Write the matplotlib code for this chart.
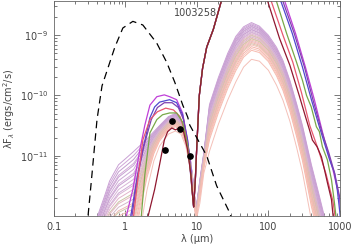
import numpy as np
import matplotlib
matplotlib.use("Agg")
import matplotlib.pyplot as plt
from matplotlib.ticker import FixedLocator, FixedFormatter, LogLocator, NullFormatter

# ---- data (log10 of lambda*F_lambda in erg/cm^2/s, wavelength in micron) ----

# stellar photosphere (dashed)
star_wave = [0.30, 0.34, 0.40, 0.47, 0.71, 0.92, 1.27, 1.75, 2.74, 3.78, 4.90,
             6.34, 7.44, 7.93, 13.7, 18.9, 27.8, 32.0]
star_logf = [-11.99, -11.31, -10.40, -9.84, -9.20, -8.88, -8.77, -8.83, -9.13,
             -9.45, -9.78, -10.16, -10.36, -10.49, -11.00, -11.50, -11.91, -12.1]

# observed photometry
obs_wave = [3.6, 4.5, 5.8, 8.0]
obs_flux = [1.23e-11, 3.7e-11, 2.8e-11, 1.0e-11]

# envelope of the pale model family: brightest (top) and faintest (low) member
fam_wave = [0.38, 0.5, 0.6, 0.8, 1.0, 1.3, 1.6, 2.0, 2.5, 3.0, 4.0, 5.0, 6.0, 7.0,
            8.0, 9.0, 9.7, 11, 12.5, 15, 20, 27, 35, 45, 58, 75, 100, 130, 160,
            200, 250, 300, 400, 500, 620]
fam_top = [-12.1, -11.7, -11.42, -11.15, -11.05, -10.93, -10.83, -10.72, -10.6,
           -10.5, -10.35, -10.3, -10.4, -10.65, -11.0, -11.5, -11.9, -11.4,
           -10.95, -10.15, -9.7, -9.3, -9.02, -8.86, -8.79, -8.85, -9.0, -9.2,
           -9.42, -9.75, -10.15, -10.5, -11.15, -11.6, -12.05]
fam_low = [-13.0, -13.0, -13.0, -13.0, -13.0, -13.0, -12.3, -11.6, -11.1, -10.85,
           -10.65, -10.6, -10.65, -10.85, -11.2, -11.7, -12.1, -11.8, -11.3,
           -10.95, -10.5, -10.1, -9.8, -9.55, -9.42, -9.45, -9.6, -9.85, -10.1,
           -10.45, -10.9, -11.3, -12.1, -12.6, -13.0]

# far-IR peak level of each pale model
fam_peak = [-8.79, -8.81, -8.83, -8.85, -8.86, -8.88, -8.90, -8.91, -8.93, -8.95,
            -8.96, -8.98, -9.00, -9.01, -9.03, -9.05, -9.06, -9.08, -9.10, -9.12,
            -9.14, -9.16, -9.19, -9.22, -9.25, -9.40]
fam_colors = ['#c9a0d4', '#cfa6d8', '#c39ccf', '#d2aad8', '#c8a2d2', '#cda8d6',
              '#d6b0da', '#c6a0d0', '#d8b4d8', '#ceaad4', '#dab6d6', '#e2b4cc',
              '#c9c6a6', '#e6b8c6', '#d4b8c8', '#f0b8b4', '#ccc8a8', '#f2bcb2',
              '#e8bcc0', '#f4b6ae', '#d8c4b0', '#f6c0b6', '#f4b4aa', '#f8c4ba',
              '#f6bcb0', '#f4c0b8']

# highlighted models: near-IR part, common mid-IR rise, far-IR fall
rise_wave = [9.0, 9.5, 10.0, 10.8, 12.0, 13.7, 17.0, 22.0, 30.0, 45.0]
rise_logf = [-11.85, -11.4, -10.8, -10.0, -9.55, -9.2, -8.9, -8.43, -8.0, -7.7]

magenta_near_w = [0.98, 1.27, 1.59, 1.87, 2.2, 2.75, 3.5, 4.15, 5.2, 6.3, 7.4, 8.2, 8.8]
magenta_near_f = [-12.1, -11.56, -10.90, -10.49, -10.16, -10.02, -9.99, -10.02,
                  -10.07, -10.29, -10.74, -11.2, -11.73]
magenta_far_w = [170, 240, 330, 440, 610, 800, 1000, 1060]
magenta_far_f = [-8.44, -8.97, -9.53, -10.07, -10.74, -11.23, -11.73, -12.2]

blue_near_w = [1.15, 1.44, 1.75, 2.2, 2.56, 3.0, 4.15, 5.2, 6.3, 7.4, 8.2, 8.8]
blue_near_f = [-12.1, -11.40, -10.9, -10.37, -10.19, -10.11, -10.07, -10.12,
               -10.32, -10.74, -11.2, -11.73]
blue_far_w = [150, 216, 300, 400, 517, 650, 720, 840, 920, 1000, 1050]
blue_far_f = [-8.44, -8.97, -9.53, -10.07, -10.52, -10.90, -11.07, -11.28,
              -11.56, -11.94, -12.2]

purple_near_w = [1.2, 1.5, 1.8, 2.3, 2.8, 3.5, 4.5, 5.5, 6.5, 7.5, 8.8]
purple_near_f = [-12.1, -11.3, -10.85, -10.4, -10.2, -10.12, -10.12, -10.2,
                 -10.4, -10.85, -11.73]
purple_far_w = [160, 230, 320, 420, 560, 700, 850, 1000, 1060]
purple_far_f = [-8.44, -8.97, -9.53, -10.07, -10.6, -10.95, -11.3, -11.7, -12.2]

crimson_near_w = [1.27, 1.49, 1.75, 2.2, 2.8, 3.66, 4.7, 5.8, 6.8, 7.8, 8.8]
crimson_near_f = [-12.1, -11.40, -10.74, -10.40, -10.27, -10.21, -10.24, -10.35,
                  -10.6, -11.0, -11.73]
crimson_far_w = [110, 160, 220, 290, 380, 500, 640, 800, 880]
crimson_far_f = [-8.44, -9.0, -9.45, -9.95, -10.5, -10.9, -11.3, -11.75, -12.1]

green_near_w = [1.64, 1.87, 2.2, 2.75, 3.3, 4.15, 5.2, 6.3, 7.4, 8.2, 8.8]
green_near_f = [-12.1, -11.31, -10.62, -10.40, -10.32, -10.29, -10.29, -10.44,
                -10.82, -11.3, -11.73]
green_far_w = [130, 180, 248, 300, 342, 398, 470, 517, 570, 670, 764, 840, 900]
green_far_f = [-8.44, -8.97, -9.45, -9.75, -10.0, -10.19, -10.52, -10.60,
               -10.85, -11.07, -11.40, -11.78, -12.1]

maroon_near_w = [1.98, 2.56, 3.0, 3.5, 3.9, 4.45, 5.0, 5.7, 6.5, 7.4, 8.2, 8.8]
maroon_near_f = [-12.1, -11.56, -11.15, -10.74, -10.60, -10.54, -10.57, -10.54,
                 -10.60, -10.90, -11.3, -11.73]
maroon_far_w = [98, 143, 200, 270, 330, 376, 413, 480, 553, 609, 671, 764, 820]
maroon_far_f = [-8.44, -9.05, -9.50, -10.0, -10.35, -10.57, -10.74, -10.85,
                -11.02, -11.23, -11.45, -11.73, -12.1]

highlights = [
    ('#c040d8', magenta_near_w, magenta_near_f, magenta_far_w, magenta_far_f),
    ('#5048d0', blue_near_w, blue_near_f, blue_far_w, blue_far_f),
    ('#8040b0', purple_near_w, purple_near_f, purple_far_w, purple_far_f),
    ('#e85870', crimson_near_w, crimson_near_f, crimson_far_w, crimson_far_f),
    ('#78a848', green_near_w, green_near_f, green_far_w, green_far_f),
    ('#901830', maroon_near_w, maroon_near_f, maroon_far_w, maroon_far_f),
]

# ---- plot ----
fig = plt.figure(figsize=(3.54, 2.46), dpi=100)
ax = fig.add_axes([0.1525, 0.122, 0.8075, 0.874])

top = np.array(fam_top)
low = np.array(fam_low)
for peak, col in zip(fam_peak, fam_colors):
    w = (top.max() - peak) / (top.max() - low.max())
    ax.plot(fam_wave, 10 ** ((1 - w) * top + w * low), color=col, lw=0.7)

for col, nw, nf, fw, ff in highlights:
    wave = nw + rise_wave + fw
    logf = nf + rise_logf + ff
    ax.plot(wave, 10 ** np.array(logf), color=col, lw=0.9)

ax.plot(star_wave, 10 ** np.array(star_logf), color='black', lw=0.9,
        dashes=(6, 4))
ax.plot(obs_wave, obs_flux, 'o', color='black', ms=3.8)

ax.set_xscale('log')
ax.set_yscale('log')
ax.set_xlim(0.1, 1000)
ax.set_ylim(1e-12, 3.7e-9)

tc = '#444444'
ax.xaxis.set_major_locator(FixedLocator([0.1, 1, 10, 100, 1000]))
ax.xaxis.set_major_formatter(FixedFormatter(['0.1', '1', '10', '100', '1000']))
ax.xaxis.set_minor_locator(LogLocator(base=10, subs=np.arange(2, 10)))
ax.xaxis.set_minor_formatter(NullFormatter())
ax.yaxis.set_major_locator(FixedLocator([1e-11, 1e-10, 1e-9]))
ax.yaxis.set_major_formatter(FixedFormatter(['$10^{-11}$', '$10^{-10}$', '$10^{-9}$']))
ax.yaxis.set_minor_locator(LogLocator(base=10, subs=np.arange(2, 10)))
ax.yaxis.set_minor_formatter(NullFormatter())
ax.tick_params(which='both', direction='in', top=True, right=True,
               labelsize=7, colors=tc, width=0.5)
ax.tick_params(which='major', length=4, pad=4)
ax.tick_params(which='minor', length=2)
for s in ax.spines.values():
    s.set_color('#666666')
    s.set_linewidth(0.6)

ax.set_xlabel('λ (μm)', fontsize=7, color=tc, labelpad=2)
ax.set_ylabel('λF$_λ$ (ergs/cm$^2$/s)', fontsize=7, color=tc, labelpad=2)
ax.text(0.495, 0.93, '1003258', transform=ax.transAxes, ha='center',
        fontsize=7, color=tc)

fig.savefig('out.png', dpi=100)
